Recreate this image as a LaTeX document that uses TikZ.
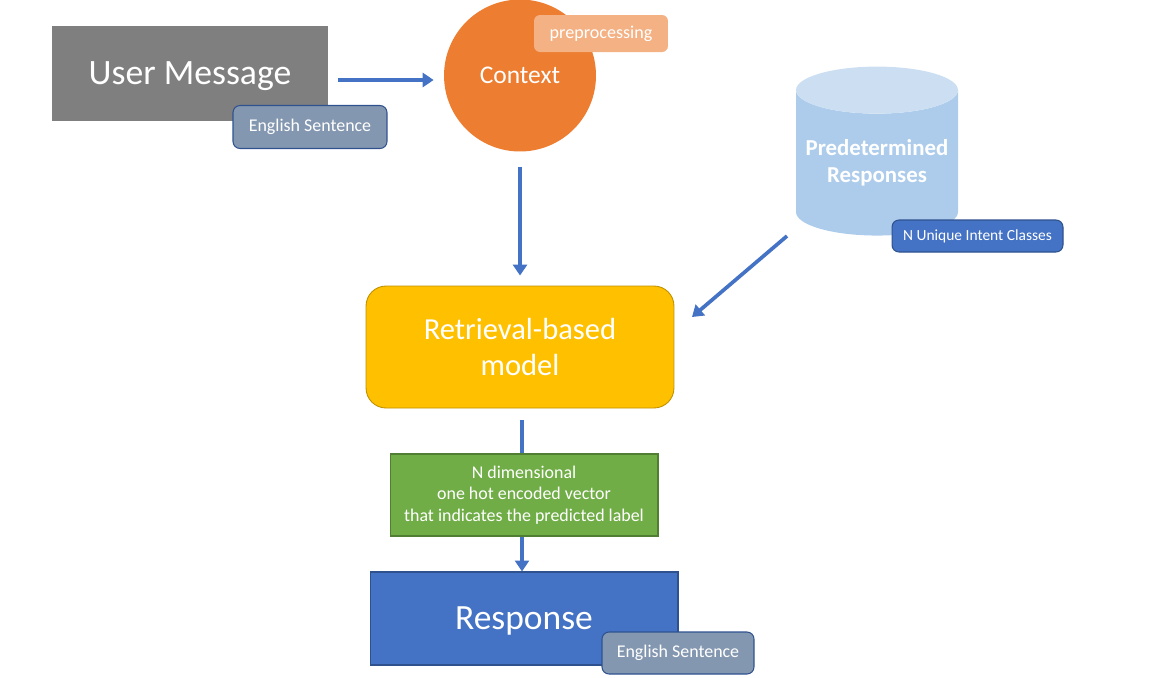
\documentclass[tikz,border=0pt]{standalone}
\usepackage{fontspec}
\setmainfont{Carlito}
\usetikzlibrary{positioning,shapes.geometric,arrows.meta}
\definecolor{msggray}{HTML}{7F7F7F}
\definecolor{badgegray}{HTML}{8497B0}
\definecolor{badgeline}{HTML}{2F528F}
\definecolor{ctxorange}{HTML}{ED7D31}
\definecolor{preporange}{HTML}{F4B183}
\definecolor{dbbody}{HTML}{ADCCEB}
\definecolor{dbtop}{HTML}{CCDFF2}
\definecolor{flowblue}{HTML}{4472C4}
\definecolor{mdlyellow}{HTML}{FFC000}
\definecolor{mdlline}{HTML}{BF9000}
\definecolor{vecgreen}{HTML}{70AD47}
\definecolor{vecline}{HTML}{507E32}
\newcommand{\fsz}[2]{\fontsize{#1}{#2}\selectfont}

\begin{document}
\begin{tikzpicture}[x=0.02cm, y=-0.02cm,
					every node/.append style={text=white, align=center, inner sep=0pt},
					badge/.style={draw=badgeline, line width=0.6pt, rounded corners=0.14cm},
					flow/.style={-{Triangle[length=0.22cm, width=0.28cm]}, draw=flowblue, line width=2.1pt}]
					\useasboundingbox (0,0) rectangle (1158,677);
					% top row
					\node [fill=msggray, minimum width=5.52cm, minimum height=1.9cm, font=\fsz{20.3}{24}, text depth=0pt] (msg) at (190,73.5) {User Message};
					\node [badge, fill=badgegray, minimum width=3.08cm, minimum height=0.86cm, font=\fsz{10.2}{12}] (eng1) at (310,127) {English Sentence};
					\node [circle, fill=ctxorange, minimum size=3.04cm, font=\fsz{14.5}{17}] (ctx) at (520,75.5) {Context};
					\node [fill=preporange, rounded corners=0.12cm, minimum width=2.68cm, minimum height=0.74cm, font=\fsz{10.3}{12}] (prep) at (601,33.5) {preprocessing};
					\node [cylinder, shape border rotate=90, aspect=0.33, cylinder uses custom fill, cylinder body fill=dbbody, cylinder end fill=dbtop,
						minimum width=3.24cm, minimum height=3.38cm, font=\bfseries\fsz{13}{15.3}] (db) at (877,163) {Predetermined\\Responses};
					\node [badge, fill=flowblue, minimum width=3.42cm, minimum height=0.64cm, font=\fsz{8.8}{10}] (intent) at (977.5,236) {N Unique Intent Classes};
					% middle and bottom
					\node [fill=mdlyellow, draw=mdlline, line width=0.5pt, rounded corners=0.4cm, minimum width=6.16cm, minimum height=2.44cm, font=\fsz{17.4}{21}] (mdl) at (520,347) {Retrieval-based\\model};
					\node [fill=flowblue, draw=badgeline, line width=0.6pt, minimum width=6.16cm, minimum height=1.86cm, font=\fsz{20.2}{24}, text depth=0pt] (resp) at (524,618.5) {Response};
					\node [badge, fill=badgegray, minimum width=3.04cm, minimum height=0.84cm, font=\fsz{10.2}{12}] (eng2) at (678,653) {English Sentence};
					% connectors
					\coordinate (dbout) at (787,236);
					\coordinate (mdlin) at (692,317);
					\begin{scope}[flow]
					\draw [shorten <=0.2cm, shorten >=0.2cm] ([yshift=-0.13cm]msg.east) -- ([yshift=-0.13cm]msg.east -| ctx.west);
					\draw [shorten <=0.3cm, shorten >=0.2cm] (ctx.south) -- (ctx.south |- mdl.north);
					\draw (dbout) -- (mdlin);
					\draw [shorten <=0.24cm] ([xshift=0.04cm]mdl.south) -- ([xshift=0.04cm]mdl.south |- resp.north);
					\end{scope}
					\node [fill=vecgreen, draw=vecline, line width=0.6pt, minimum width=5.36cm, minimum height=1.64cm, font=\fsz{10.2}{12.2}] (vec) at (524,495) {N dimensional\\one hot encoded vector\\that indicates the predicted label};
\end{tikzpicture}
\end{document}
